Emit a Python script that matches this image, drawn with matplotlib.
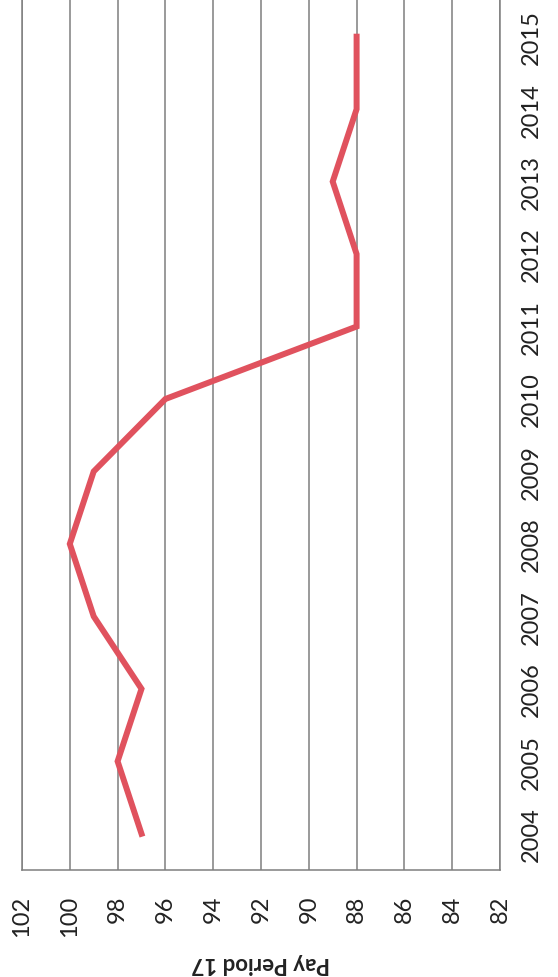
import matplotlib
matplotlib.use("Agg")
import matplotlib.pyplot as plt

# chart is drawn turned 90 degrees, like the scanned page
years = ["2004", "2005", "2006", "2007", "2008", "2009",
         "2010", "2011", "2012", "2013", "2014", "2015"]
pay_period_17 = [97, 98, 97, 99, 100, 99, 96, 88, 88, 89, 88, 88]
value_ticks = [102, 100, 98, 96, 94, 92, 90, 88, 86, 84, 82]

plt.rcParams['font.family'] = ['Lato', 'DejaVu Sans']

fig = plt.figure(figsize=(5.58, 9.78), dpi=100)
ax = fig.add_axes([22 / 558, 1 - 871 / 978, (500 - 22) / 558, 871 / 978])

pos = list(range(len(years)))
ax.plot(pay_period_17, pos, color="#E0525E", lw=4.3, solid_joinstyle="miter", zorder=3)

ax.set_xlim(102, 82)
ax.set_ylim(-0.5, len(years) - 0.48)
ax.set_xticks(value_ticks)
ax.set_xticklabels([str(v) for v in value_ticks], rotation=90, fontsize=17, color="#222222")
ax.set_yticks(pos)
ax.set_yticklabels(years, rotation=90, va="center", fontsize=17, color="#222222")
ax.yaxis.tick_right()
ax.tick_params(axis="x", length=0, pad=18)
ax.tick_params(axis="y", length=0, pad=15)

ax.grid(axis="x", color="#7f7f7f", lw=1.1)
for s in ax.spines.values():
    s.set_color("#7f7f7f")
    s.set_linewidth(1.1)
ax.spines["top"].set_visible(False)

fig.text(261 / 558, 1 - 964 / 978, "Pay Period 17", rotation=180, ha="center", va="center",
         fontsize=16, fontweight="bold", color="#222222")

fig.savefig("out.png", dpi=100)
